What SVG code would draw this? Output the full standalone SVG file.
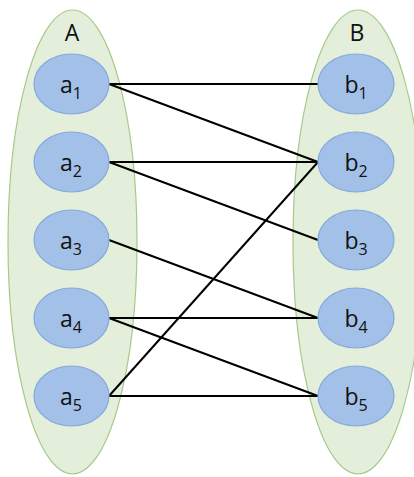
<svg xmlns="http://www.w3.org/2000/svg" width="414" height="477" viewBox="0 0 414 477">
<style>
.set{fill:#e3efda;stroke:#a6c98a;stroke-width:1.2}
.node{fill:#a3c1e8;stroke:#86aadb;stroke-width:1.2}
.t{font-family:"Open Sans","Liberation Sans",sans-serif;fill:#111;text-anchor:middle}
.lbl{font-size:23px}
.sub{font-size:16px}
.edge{stroke:#000;stroke-width:2;fill:none}
</style>
<rect width="414" height="477" fill="#fff"/>
<g id="setA"><ellipse class="set" cx="72.5" cy="242" rx="64.5" ry="232"/><text class="t lbl" x="72" y="41">A</text></g>
<g id="setB"><ellipse class="set" cx="358" cy="242" rx="65" ry="232"/><text class="t lbl" x="357" y="41">B</text></g>
<g id="connectors">
<line class="edge" x1="109" y1="84" x2="318" y2="84"/>
<line class="edge" x1="109" y1="84" x2="318" y2="162"/>
<line class="edge" x1="109" y1="162" x2="318" y2="162"/>
<line class="edge" x1="109" y1="162" x2="318" y2="240"/>
<line class="edge" x1="109" y1="240" x2="318" y2="318"/>
<line class="edge" x1="109" y1="318" x2="318" y2="318"/>
<line class="edge" x1="109" y1="318" x2="318" y2="396"/>
<line class="edge" x1="109" y1="396" x2="318" y2="396"/>
<line class="edge" x1="109" y1="396" x2="318" y2="162"/>
</g>
<g id="a1"><ellipse class="node" cx="71.5" cy="84" rx="37.5" ry="30"/><text class="t" x="71" y="93"><tspan class="lbl">a</tspan><tspan class="sub" dy="6">1</tspan></text></g>
<g id="a2"><ellipse class="node" cx="71.5" cy="162" rx="37.5" ry="30"/><text class="t" x="71" y="171"><tspan class="lbl">a</tspan><tspan class="sub" dy="6">2</tspan></text></g>
<g id="a3"><ellipse class="node" cx="71.5" cy="240" rx="37.5" ry="30"/><text class="t" x="71" y="249"><tspan class="lbl">a</tspan><tspan class="sub" dy="6">3</tspan></text></g>
<g id="a4"><ellipse class="node" cx="71.5" cy="318" rx="37.5" ry="30"/><text class="t" x="71" y="327"><tspan class="lbl">a</tspan><tspan class="sub" dy="6">4</tspan></text></g>
<g id="a5"><ellipse class="node" cx="71.5" cy="396" rx="37.5" ry="30"/><text class="t" x="71" y="405"><tspan class="lbl">a</tspan><tspan class="sub" dy="6">5</tspan></text></g>
<g id="b1"><ellipse class="node" cx="356" cy="84" rx="38" ry="30"/><text class="t" x="356" y="93"><tspan class="lbl">b</tspan><tspan class="sub" dy="6">1</tspan></text></g>
<g id="b2"><ellipse class="node" cx="356" cy="162" rx="38" ry="30"/><text class="t" x="356" y="171"><tspan class="lbl">b</tspan><tspan class="sub" dy="6">2</tspan></text></g>
<g id="b3"><ellipse class="node" cx="356" cy="240" rx="38" ry="30"/><text class="t" x="356" y="249"><tspan class="lbl">b</tspan><tspan class="sub" dy="6">3</tspan></text></g>
<g id="b4"><ellipse class="node" cx="356" cy="318" rx="38" ry="30"/><text class="t" x="356" y="327"><tspan class="lbl">b</tspan><tspan class="sub" dy="6">4</tspan></text></g>
<g id="b5"><ellipse class="node" cx="356" cy="396" rx="38" ry="30"/><text class="t" x="356" y="405"><tspan class="lbl">b</tspan><tspan class="sub" dy="6">5</tspan></text></g>
</svg>
